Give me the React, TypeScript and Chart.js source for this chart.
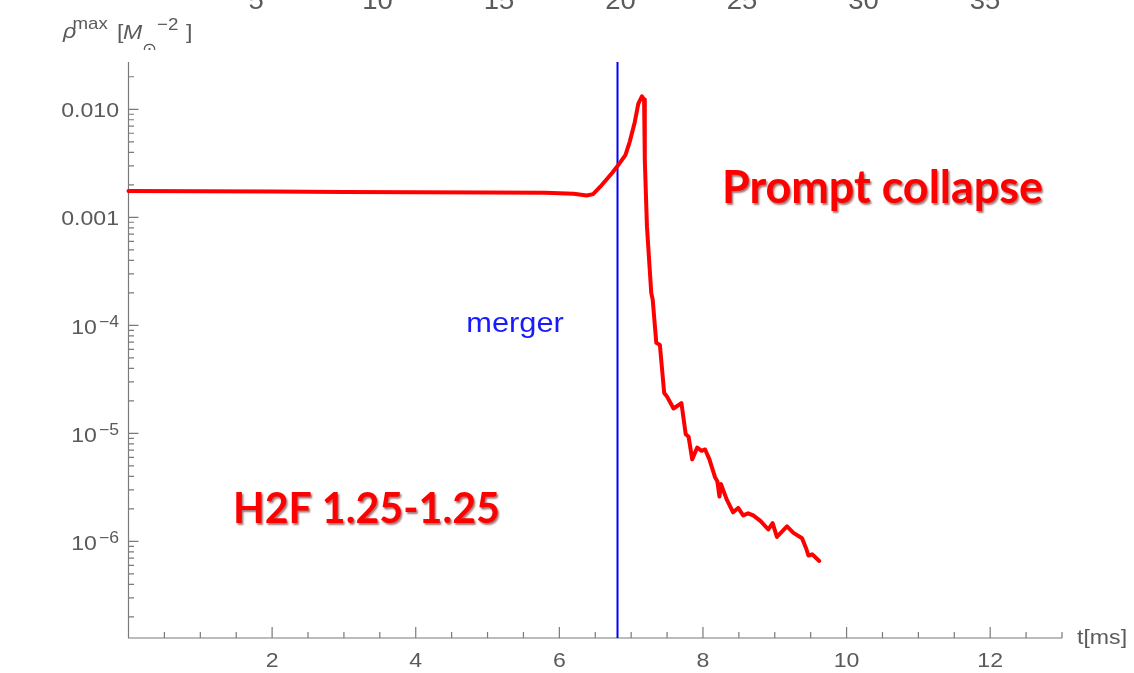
import { useEffect, useRef } from "react";
import { Chart, registerables } from "chart.js";

Chart.register(...registerables);

// Maximum rest-mass density vs. time, H2F 1.25-1.25 binary
const timeMs = [
  0, 1, 2, 3, 4, 5, 5.8, 6.2, 6.38, 6.47, 6.57, 6.66, 6.74, 6.81, 6.92, 6.98, 7.05, 7.1,
  7.15, 7.18, 7.19, 7.22, 7.28, 7.3, 7.35, 7.4, 7.46, 7.5, 7.59, 7.7, 7.76, 7.8, 7.85,
  7.92, 7.98, 8.03, 8.09, 8.17, 8.2, 8.23, 8.25, 8.33, 8.42, 8.49, 8.56, 8.63, 8.7, 8.8,
  8.91, 8.97, 9.03, 9.17, 9.26, 9.38, 9.44, 9.47, 9.52, 9.62,
];
const rhoMax = [
  1.75e-3, 1.74e-3, 1.73e-3, 1.72e-3, 1.71e-3, 1.7e-3, 1.69e-3, 1.65e-3, 1.59e-3, 1.64e-3,
  1.92e-3, 2.25e-3, 2.6e-3, 2.98e-3, 3.77e-3, 5.0e-3, 7.6e-3, 1.13e-2, 1.32e-2, 1.23e-2,
  3.4e-3, 8.2e-4, 2.0e-4, 1.73e-4, 6.9e-5, 6.6e-5, 2.37e-5, 2.19e-5, 1.7e-5, 1.91e-5,
  9.8e-6, 9.3e-6, 5.75e-6, 7.4e-6, 6.9e-6, 7.1e-6, 5.75e-6, 3.9e-6, 3.6e-6, 2.6e-6,
  3.4e-6, 2.45e-6, 1.86e-6, 2.04e-6, 1.74e-6, 1.82e-6, 1.74e-6, 1.55e-6, 1.29e-6,
  1.48e-6, 1.1e-6, 1.38e-6, 1.2e-6, 1.07e-6, 8.5e-7, 7.4e-7, 7.6e-7, 6.6e-7,
];

const mergerTime = 6.81;

const xRange = [0, 13];
const yRange = [1.277e-7, 0.0274];
const xMajorTicks = [2, 4, 6, 8, 10, 12];
const xMinorStep = 0.5;

const yTickValues = [1e-2, 1e-3, 1e-4, 1e-5, 1e-6];
const yTickBase = ["0.010", "0.001", "10", "10", "10"];
const yTickExp = ["", "", "\u22124", "\u22125", "\u22126"];

// upper panel's time axis (in ms of another run), mostly outside the page
const topAxisRange = [-0.25, 38.17];
const topAxisTicks = [5, 10, 15, 20, 25, 30, 35];

const AXIS_COLOR = "#7a7a7a";
const LABEL_COLOR = "#5a5a5a";
const SANS = "'Liberation Sans', Arial, sans-serif";
const SX = 1.1; // horizontal stretch of the plot's typography

function drawText(
  ctx: CanvasRenderingContext2D,
  text: string,
  x: number,
  y: number,
  align: "left" | "center" | "right",
  font: string,
  color: string,
  sx = SX
): number {
  ctx.save();
  ctx.font = font;
  ctx.fillStyle = color;
  ctx.textAlign = "left";
  ctx.textBaseline = "alphabetic";
  const w = ctx.measureText(text).width * sx;
  const left = align === "right" ? x - w : align === "center" ? x - w / 2 : x;
  ctx.translate(left, y);
  ctx.scale(sx, 1);
  ctx.fillText(text, 0, 0);
  ctx.restore();
  return w;
}

function drawFitted(
  ctx: CanvasRenderingContext2D,
  text: string,
  left: number,
  right: number,
  baseline: number,
  family: string,
  color: string
) {
  ctx.save();
  ctx.font = `bold 40px ${family}`;
  const w0 = ctx.measureText(text).width;
  const size = (40 * (right - left)) / w0;
  ctx.font = `bold ${size}px ${family}`;
  ctx.fillStyle = color;
  ctx.textAlign = "left";
  ctx.textBaseline = "alphabetic";
  ctx.shadowColor = "rgba(90, 0, 0, 0.55)";
  ctx.shadowOffsetX = 1.5;
  ctx.shadowOffsetY = 1.5;
  ctx.shadowBlur = 2;
  ctx.fillText(text, left, baseline);
  ctx.restore();
}

const frameAxes = {
  id: "frameAxes",
  beforeDatasetsDraw(chart: any) {
    const { ctx, chartArea } = chart;
    const x = chart.scales.x;
    const y = chart.scales.y;
    const { left, right, top, bottom } = chartArea;
    ctx.save();
    ctx.strokeStyle = AXIS_COLOR;
    ctx.lineWidth = 1.2;
    ctx.beginPath();
    ctx.moveTo(left, top);
    ctx.lineTo(left, bottom);
    ctx.lineTo(right, bottom);
    // time ticks
    for (let v = xMinorStep; v <= xRange[1] + 1e-9; v += xMinorStep) {
      const px = x.getPixelForValue(v);
      const len = xMajorTicks.includes(v) ? 11 : 6;
      ctx.moveTo(px, bottom);
      ctx.lineTo(px, bottom - len);
    }
    // logarithmic density ticks
    for (let d = -7; d <= -2; d++) {
      for (let m = 1; m <= 9; m++) {
        const v = m * Math.pow(10, d);
        if (v < yRange[0] || v > yRange[1]) continue;
        const py = y.getPixelForValue(v);
        const len = m === 1 ? 10 : 5.5;
        ctx.moveTo(left, py);
        ctx.lineTo(left + len, py);
      }
    }
    ctx.stroke();
    ctx.restore();
  },
  afterDatasetsDraw(chart: any) {
    const { ctx, chartArea } = chart;
    const x = chart.scales.x;
    const y = chart.scales.y;
    const xTop = chart.scales.xTop;
    const { left, bottom } = chartArea;
    const tickFont = `21px ${SANS}`;
    const expFont = `16px ${SANS}`;

    xMajorTicks.forEach((v) => {
      drawText(ctx, String(v), x.getPixelForValue(v), bottom + 29, "center", tickFont, LABEL_COLOR);
    });

    yTickValues.forEach((v, i) => {
      const py = y.getPixelForValue(v);
      const rightEdge = left - 9.5;
      if (yTickExp[i]) {
        const ew = drawText(ctx, yTickExp[i], rightEdge, py + 1.5, "right", expFont, LABEL_COLOR);
        drawText(ctx, yTickBase[i], rightEdge - ew - 2, py + 9, "right", tickFont, LABEL_COLOR);
      } else {
        drawText(ctx, yTickBase[i], rightEdge, py + 7.5, "right", tickFont, LABEL_COLOR);
      }
    });

    drawText(ctx, "t[ms]", 1077, 644, "left", tickFont, LABEL_COLOR);

    // density axis label, clipped by the frame above the plot
    ctx.save();
    ctx.beginPath();
    ctx.rect(0, 0, 300, 50);
    ctx.clip();
    drawText(ctx, "\u03C1", 63, 38, "left", `italic 21px ${SANS}`, LABEL_COLOR);
    drawText(ctx, "max", 72.5, 28.5, "left", `17px ${SANS}`, LABEL_COLOR);
    drawText(ctx, "[", 117, 39, "left", `21px ${SANS}`, LABEL_COLOR);
    drawText(ctx, "M", 123, 38.5, "left", `italic 21px ${SANS}`, LABEL_COLOR);
    drawText(ctx, "\u2299", 142, 54, "left", `16px 'DejaVu Sans', sans-serif`, LABEL_COLOR);
    drawText(ctx, "\u22122", 157, 30, "left", `17px ${SANS}`, LABEL_COLOR);
    drawText(ctx, "]", 186, 39, "left", `21px ${SANS}`, LABEL_COLOR);
    ctx.restore();

    topAxisTicks.forEach((v) => {
      drawText(ctx, String(v), xTop.getPixelForValue(v), 9, "center", `25px ${SANS}`, LABEL_COLOR);
    });

    drawText(ctx, "merger", 515, 332, "center", `28px ${SANS}`, "#1a1aff");

    drawFitted(ctx, "Prompt collapse", 722, 1043, 203, "Lato, 'Open Sans', sans-serif", "#ff0000");
    drawFitted(ctx, "H2F 1.25-1.25", 233, 500, 523, "Lato, 'Open Sans', sans-serif", "#ff0000");
  },
};

export default function App() {
  const canvasRef = useRef<HTMLCanvasElement | null>(null);

  useEffect(() => {
    const canvas = canvasRef.current;
    if (!canvas) return;
    const density = timeMs.map((t, i) => ({ x: t, y: rhoMax[i] }));
    const mergerLine = [
      { x: mergerTime, y: yRange[0] },
      { x: mergerTime, y: yRange[1] },
    ];
    const chart = new Chart(canvas, {
      type: "line",
      data: {
        datasets: [
          {
            label: "rho max",
            data: density,
            borderColor: "#ff0000",
            borderWidth: 4,
            pointRadius: 0,
            tension: 0,
            borderJoinStyle: "round",
            borderCapStyle: "round",
            clip: false,
          },
          {
            label: "merger",
            data: mergerLine,
            borderColor: "#0000ff",
            borderWidth: 2,
            pointRadius: 0,
            clip: false,
          },
        ],
      },
      options: {
        animation: false,
        responsive: false,
        devicePixelRatio: 1,
        layout: { padding: { left: 128.5, right: 72, top: 62, bottom: 35 } },
        plugins: { legend: { display: false }, tooltip: { enabled: false } },
        scales: {
          x: { type: "linear", min: xRange[0], max: xRange[1], display: false },
          y: { type: "logarithmic", min: yRange[0], max: yRange[1], display: false },
          xTop: {
            type: "linear",
            axis: "x",
            min: topAxisRange[0],
            max: topAxisRange[1],
            display: false,
          },
        },
      },
      plugins: [frameAxes],
    });
    return () => chart.destroy();
  }, []);

  return (
    <div style={{ position: "fixed", left: 0, top: 0, width: 1134, height: 673, background: "#fff" }}>
      <canvas ref={canvasRef} width={1134} height={673} />
    </div>
  );
}
